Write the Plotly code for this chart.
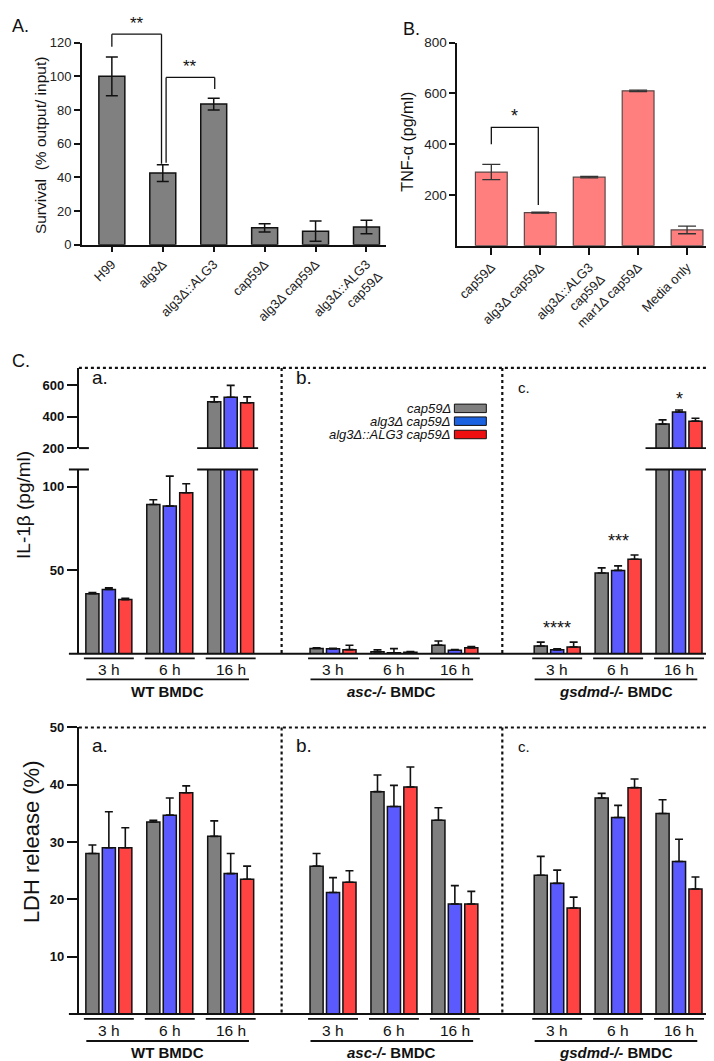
import plotly.graph_objects as go

W, H = 714, 1061
FONT = "Arial, Liberation Sans, sans-serif"


def px(x):
    return x / W


def py(y):
    return 1 - y / H


# ---------------- Panel A data ----------------
a_labels = ["H99", "alg3Δ", "alg3Δ::ALG3", "cap59Δ", "alg3Δ cap59Δ", "alg3Δ::ALG3<br>cap59Δ"]
a_values = [100, 42.5, 83.5, 10, 8, 10.5]
a_errors = [11.5, 5, 3.5, 2.5, 6, 4]

# ---------------- Panel B data ----------------
b_labels = ["cap59Δ", "alg3Δ cap59Δ", "alg3Δ::ALG3<br>cap59Δ", "mar1Δ cap59Δ", "Media only"]
b_values = [290, 130, 270, 610, 62]
b_errors = [30, 2, 3, 3, 15]

# ---------------- Panel C data ----------------
strains = ["cap59Δ", "alg3Δ cap59Δ", "alg3Δ::ALG3 cap59Δ"]
bmdc_labels = ["WT BMDC", "<i>asc-/-</i> BMDC", "<i>gsdmd-/-</i> BMDC"]
times = ["3 h", "6 h", "16 h"]

# order: WT 3h,6h,16h | asc 3h,6h,16h | gsdmd 3h,6h,16h
il1b_cap59 = [36, 89.5, 495, 3.2, 1.2, 5.2, 4.7, 48.4, 353]
il1b_cap59_err = [0.7, 2.8, 32, 0.4, 1.2, 2.5, 2.3, 3.1, 27]
il1b_alg3 = [38.6, 88.5, 524, 3.0, 0.6, 2.2, 2.4, 50, 430]
il1b_alg3_err = [0.9, 18, 76, 0.3, 2.5, 0.3, 0.6, 2.7, 13]
il1b_alg3c = [32.5, 96.5, 489, 2.5, 1.0, 3.6, 4.1, 56.7, 372]
il1b_alg3c_err = [0.8, 5.4, 38, 2.6, 0.3, 0.8, 2.9, 2.5, 18]

ldh_cap59 = [28, 33.5, 31, 25.8, 38.8, 33.8, 24.2, 37.7, 35]
ldh_cap59_err = [1.5, 0.3, 2.7, 2.2, 2.9, 2.2, 3.3, 0.8, 2.4]
ldh_alg3 = [29, 34.7, 24.5, 21.2, 36.2, 19.2, 22.8, 34.3, 26.6]
ldh_alg3_err = [6.3, 3.0, 3.5, 2.6, 3.7, 3.2, 2.3, 2.1, 3.9]
ldh_alg3c = [29, 38.6, 23.5, 23, 39.6, 19.2, 18.5, 39.5, 21.8]
ldh_alg3c_err = [3.5, 1.2, 2.3, 2.0, 3.5, 2.2, 1.9, 1.5, 2.1]

bar_colors = ["#7f7f7f", "#5a5aff", "#ff4343"]
legend_colors = ["#7f7f7f", "#1a62e0", "#ee1010"]

GROUP_STEP = 3.68
x_pos = [b * GROUP_STEP + t for b in range(len(bmdc_labels)) for t in range(len(times))]
SLOT = 0.27
BW = 0.215

fig = go.Figure()

# ---- A bars ----
fig.add_trace(go.Bar(
    x=a_labels, y=a_values, xaxis="x", yaxis="y", width=0.51,
    marker=dict(color="#808080", line=dict(color="#111", width=1.5)),
    error_y=dict(type="data", array=a_errors, color="#111", thickness=1.5, width=6),
    showlegend=False))

# ---- B bars ----
fig.add_trace(go.Bar(
    x=b_labels, y=b_values, xaxis="x2", yaxis="y2", width=0.65,
    marker=dict(color="#ff7f7f", line=dict(color="#5a4848", width=1.2)),
    error_y=dict(type="data", array=b_errors, color="#333", thickness=1.3, width=9),
    showlegend=False))

# ---- C bars (broken axis: lower y3, upper y4) and LDH (y5) ----
il_series = [(il1b_cap59, il1b_cap59_err), (il1b_alg3, il1b_alg3_err), (il1b_alg3c, il1b_alg3c_err)]
ldh_series = [(ldh_cap59, ldh_cap59_err), (ldh_alg3, ldh_alg3_err), (ldh_alg3c, ldh_alg3c_err)]
for k in range(3):
    off = (k - 1) * SLOT - BW / 2
    vals, errs = il_series[k]
    for yax in ["y3", "y4"]:
        fig.add_trace(go.Bar(
            x=x_pos, y=vals, xaxis="x3", yaxis=yax, offset=off, width=BW, name=strains[k],
            marker=dict(color=bar_colors[k], line=dict(color="#111", width=1.5)),
            error_y=dict(type="data", array=errs, arrayminus=[0] * len(errs), symmetric=False,
                         color="#111", thickness=1.6, width=4),
            showlegend=False))
    vals, errs = ldh_series[k]
    fig.add_trace(go.Bar(
        x=x_pos, y=vals, xaxis="x4", yaxis="y5", offset=off, width=BW, name=strains[k],
        marker=dict(color=bar_colors[k], line=dict(color="#111", width=1.5)),
        error_y=dict(type="data", array=errs, arrayminus=[0] * len(errs), symmetric=False,
                     color="#111", thickness=1.6, width=4),
        showlegend=False))

axis_common = dict(showgrid=False, zeroline=False, color="#111")

C_X_RANGE = [(70 - 100) / 61, (698 - 100) / 61]
A_DOM = [py(233), py(28)]
A_RANGE = [0, 120]


def ya(v):
    """A-panel value -> paper y (for brackets that go above the axis top)."""
    return A_DOM[0] + (A_DOM[1] - A_DOM[0]) * (v - A_RANGE[0]) / (A_RANGE[1] - A_RANGE[0])


fig.update_layout(
    width=W, height=H, margin=dict(l=0, r=0, t=0, b=0),
    paper_bgcolor="white", plot_bgcolor="rgba(0,0,0,0)",
    font=dict(family=FONT, color="#111"),
    barmode="overlay", showlegend=False,
    xaxis=dict(domain=[px(73), px(378)], anchor="y", type="category",
               range=[(73 - 103) / 51, (378 - 103) / 51],
               showline=True, linewidth=1.8, linecolor="#111", ticks="outside", ticklen=5,
               tickwidth=1.5, tickangle=-45, tickfont=dict(size=13, color="#222"), **axis_common),
    yaxis=dict(domain=A_DOM, anchor="x", range=A_RANGE, tickvals=[0, 20, 40, 60, 80, 100, 120],
               showline=True, linewidth=1.8, linecolor="#111", ticks="outside", ticklen=6,
               tickwidth=1.5, tickfont=dict(size=13, color="#222"), **axis_common),
    xaxis2=dict(domain=[px(449), px(713)], anchor="y2", type="category",
                range=[(449 - 483) / 49, (713 - 483) / 49],
                showline=True, linewidth=1.8, linecolor="#111", ticks="outside", ticklen=7,
                tickwidth=1.8, tickangle=-45, tickfont=dict(size=13, color="#222"), **axis_common),
    yaxis2=dict(domain=[py(234), py(28)], anchor="x2", range=[0, 800], tickvals=[200, 400, 600, 800],
                showline=True, linewidth=1.8, linecolor="#111", ticks="outside", ticklen=6,
                tickwidth=1.8, tickfont=dict(size=13.5, color="#222"), **axis_common),
    xaxis3=dict(domain=[px(70), px(698)], anchor="y3", range=C_X_RANGE, visible=False, **axis_common),
    yaxis3=dict(domain=[py(648), py(461)], anchor="x3", range=[0, (648 - 461) / 1.693],
                tickvals=[50, 100], showline=True, linewidth=2, linecolor="#111",
                ticks="outside", ticklen=10, tickwidth=2,
                tickfont=dict(size=13, weight="bold"), **axis_common),
    yaxis4=dict(domain=[py(439.3), py(358)], anchor="x3", range=[200, 200 + (439.3 - 358) / 0.159],
                tickvals=[200, 400, 600], showline=True, linewidth=2, linecolor="#111",
                ticks="outside", ticklen=10, tickwidth=2,
                tickfont=dict(size=13, weight="bold"), **axis_common),
    xaxis4=dict(domain=[px(70), px(698)], anchor="y5", range=C_X_RANGE, visible=False, **axis_common),
    yaxis5=dict(domain=[py(1013.3), py(722.7)], anchor="x4", range=[0, 50],
                tickvals=[10, 20, 30, 40, 50], showline=True, linewidth=2, linecolor="#111",
                ticks="outside", ticklen=10, tickwidth=2,
                tickfont=dict(size=13, weight="bold"), **axis_common),
)

shapes = []
annotations = []


def pline(x0, y0, x1, y1, width=2, dash=None, color="#111"):
    ln = dict(color=color, width=width)
    if dash:
        ln["dash"] = dash
    shapes.append(dict(type="line", xref="paper", yref="paper", x0=px(x0), y0=py(y0), x1=px(x1), y1=py(y1),
                       line=ln))


def text(x, y, s, size=13, xref="paper", anchor="center", bold=False, italic=False, angle=0, yref="paper",
         yanchor="middle"):
    annotations.append(dict(x=x, y=y, xref=xref, yref=yref, text=s, showarrow=False, xanchor=anchor,
                            yanchor=yanchor, textangle=angle,
                            font=dict(size=size, family=FONT, color="#111",
                                      weight="bold" if bold else "normal",
                                      style="italic" if italic else "normal")))


# ---- panel letters ----
text(px(1), py(11), "A.", size=18, anchor="left")
text(px(393), py(14), "B.", size=18, anchor="left")
text(px(1), py(351), "C.", size=18, anchor="left")

# ---- axis titles ----
text(px(31), py(132), "Survival  (% output/ input)", size=15.5, angle=-90)
text(px(399), py(128), "TNF-α (pg/ml)", size=16, angle=-90)
text(px(15), py(497), "IL-1β (pg/ml)", size=19, angle=-90)
text(px(22), py(838), "LDH release (%)", size=22, angle=-90)

# ---- significance brackets A (paper-y so they may rise above the axis top) ----
br1 = [(0, 117.5), (0, 125), (0.975, 125), (0.975, 48)]
br2 = [(1.065, 48.6), (1.065, 99.3), (2.02, 99.3), (2.02, 92.5)]
for br in (br1, br2):
    for (xa, va), (xb, vb) in zip(br[:-1], br[1:]):
        shapes.append(dict(type="line", xref="x", yref="paper", x0=xa, x1=xb, y0=ya(va), y1=ya(vb),
                           line=dict(color="#111", width=1.3)))
text(0.49, ya(124.5), "**", size=17, xref="x", yanchor="bottom")
text(1.54, ya(98.8), "**", size=17, xref="x", yanchor="bottom")
# ---- bracket B ----
shapes.append(dict(type="path", xref="x2", yref="y2", path="M 0,400 L 0,466 L 0.96,466 L 0.96,160",
                   line=dict(color="#111", width=1.3)))
text(0.48, 462, "*", size=18, xref="x2", yref="y2", yanchor="bottom")

# ---- panel C frame ----
pline(60, 648, 698, 648, width=2)                      # x axis line
pline(60, 461, 80, 461, width=2)                       # break mark (lower top)
pline(70, 439.3, 80, 439.3, width=2)                   # break mark (upper bottom)
pline(70, 358, 703, 358, width=2.2, dash="dot")
pline(703, 358, 703, 648, width=2.2, dash="dot")
pline(273, 358, 273, 648, width=2.2, dash="dot")
pline(494, 358, 494, 648, width=2.2, dash="dot")
# break lines across the 16 h groups
for b in (0, 2):
    xc = x_pos[b * 3 + 2]
    for yy in (439.3, 461):
        shapes.append(dict(type="line", xref="x3", yref="paper", x0=xc - 0.55, x1=xc + 0.45,
                           y0=py(yy), y1=py(yy), line=dict(color="#111", width=1.8)))

# ---- LDH frame ----
pline(60, 1013.3, 702, 1013.3, width=2)
pline(70, 722.7, 706, 722.7, width=2.2, dash="dot")
pline(706, 722.7, 706, 1013.3, width=2.2, dash="dot")
pline(273, 722.7, 273, 1013.3, width=2.2, dash="dot")
pline(494, 722.7, 494, 1013.3, width=2.2, dash="dot")

# ---- group underlines and labels ----
for xref, y_tl, y_tt, y_bl, y_bt in (("x3", 652.7, 663.5, 674, 686), ("x4", 1018.3, 1030, 1040.7, 1052)):
    for b in range(3):
        for t in range(3):
            xc = x_pos[b * 3 + t]
            shapes.append(dict(type="line", xref=xref, yref="paper", x0=xc - 0.41, x1=xc + 0.41,
                               y0=py(y_tl), y1=py(y_tl), line=dict(color="#111", width=1.8)))
            text(xc, py(y_tt), times[t], size=15.5, xref=xref)
        x0 = x_pos[b * 3] - 0.37
        x1 = x_pos[b * 3 + 2] + 0.3
        shapes.append(dict(type="line", xref=xref, yref="paper", x0=x0, x1=x1,
                           y0=py(y_bl), y1=py(y_bl), line=dict(color="#111", width=1.8)))
        text((x0 + x1) / 2, py(y_bt), bmdc_labels[b], size=15, xref=xref, bold=True)

# ---- sub-panel letters ----
for y_ab, y_c in ((368, 378), (741, 742)):
    text(px(81), py(y_ab), "a.", size=19, anchor="left")
    text(px(285), py(y_ab), "b.", size=19, anchor="left")
    text(px(508), py(y_c), "c.", size=15, anchor="left")

# ---- stars panel C ----
text(x_pos[6], py(622), "****", size=18, xref="x3")
text(x_pos[7], py(534), "***", size=18, xref="x3")
text(x_pos[8], py(390), "*", size=18, xref="x3")

# ---- manual legend ----
for k, yc in enumerate((399, 412, 425.5)):
    shapes.append(dict(type="rect", xref="paper", yref="paper", x0=px(446), x1=px(478),
                       y0=py(yc + 4.3), y1=py(yc - 4.3), fillcolor=legend_colors[k],
                       line=dict(color="#111", width=1)))
    text(px(445), py(yc), strains[k], size=13, anchor="right", italic=True)

fig.update_layout(shapes=shapes, annotations=annotations)
fig.write_html("out.html")
